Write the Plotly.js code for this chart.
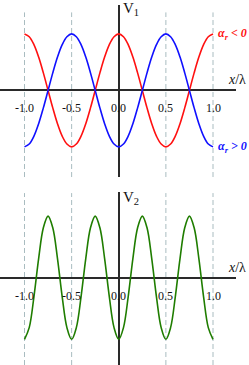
<!DOCTYPE html>
<html><head><meta charset="utf-8">
<script src="https://cdn.plot.ly/plotly-3.0.1.min.js"></script>
<style>html,body{margin:0;padding:0;background:#fff}#c{width:249px;height:365px}</style>
</head><body><div id="c"></div>
<script>
// x positions (x/λ)
var xs = [-1.00,-0.95,-0.90,-0.85,-0.80,-0.75,-0.70,-0.65,-0.60,-0.55,-0.50,-0.45,-0.40,-0.35,-0.30,-0.25,-0.20,-0.15,-0.10,-0.05,
          0.00,0.05,0.10,0.15,0.20,0.25,0.30,0.35,0.40,0.45,0.50,0.55,0.60,0.65,0.70,0.75,0.80,0.85,0.90,0.95,1.00];
// V1, alpha_r < 0 (red)
var v1Neg = [1.00,0.95,0.81,0.59,0.31,0.00,-0.31,-0.59,-0.81,-0.95,-1.00,-0.95,-0.81,-0.59,-0.31,0.00,0.31,0.59,0.81,0.95,
             1.00,0.95,0.81,0.59,0.31,0.00,-0.31,-0.59,-0.81,-0.95,-1.00,-0.95,-0.81,-0.59,-0.31,0.00,0.31,0.59,0.81,0.95,1.00];
// V1, alpha_r > 0 (blue)
var v1Pos = [-1.00,-0.95,-0.81,-0.59,-0.31,0.00,0.31,0.59,0.81,0.95,1.00,0.95,0.81,0.59,0.31,0.00,-0.31,-0.59,-0.81,-0.95,
             -1.00,-0.95,-0.81,-0.59,-0.31,0.00,0.31,0.59,0.81,0.95,1.00,0.95,0.81,0.59,0.31,0.00,-0.31,-0.59,-0.81,-0.95,-1.00];
// V2 (green)
var v2 = [-1.00,-0.81,-0.31,0.31,0.81,1.00,0.81,0.31,-0.31,-0.81,-1.00,-0.81,-0.31,0.31,0.81,1.00,0.81,0.31,-0.31,-0.81,
          -1.00,-0.81,-0.31,0.31,0.81,1.00,0.81,0.31,-0.31,-0.81,-1.00,-0.81,-0.31,0.31,0.81,1.00,0.81,0.31,-0.31,-0.81,-1.00];
var tickVals = [-1.0,-0.5,0.0,0.5,1.0];
var tickLabels = ["-1.0","-0.5","0.0","0.5","1.0"];
var gridVals = [-1.0,-0.5,0.5,1.0];

var SERIF = "Liberation Serif, Times New Roman, serif";
var RED = "#ff1010", BLUE = "#1010ff", GREEN = "#1f7d00", AX = "#2a2a2a";

var traces = [
  {x: xs, y: v1Neg, xaxis:'x', yaxis:'y', mode:'lines', line:{color:RED, width:1.6, shape:'spline'}, hoverinfo:'skip'},
  {x: xs, y: v1Pos, xaxis:'x', yaxis:'y', mode:'lines', line:{color:BLUE, width:1.6, shape:'spline'}, hoverinfo:'skip'},
  {x: xs, y: v2, xaxis:'x2', yaxis:'y2', mode:'lines', line:{color:GREEN, width:1.6, shape:'spline'}, hoverinfo:'skip'}
];

var xr = [-1.26, 1.244];
function xa(anchor){ return {range:xr, domain:[0,1], anchor:anchor, showgrid:false, showticklabels:false, ticks:'',
  zeroline:true, zerolinecolor:AX, zerolinewidth:2, showline:false, fixedrange:true}; }
function ya(range, dom, anchor){ return {range:range, domain:dom, anchor:anchor, showgrid:false, showticklabels:false, ticks:'',
  zeroline:true, zerolinecolor:AX, zerolinewidth:2, showline:false, fixedrange:true}; }

var shapes = [];
gridVals.forEach(function(g){
  shapes.push({type:'line', xref:'x', yref:'paper', x0:g, x1:g, y0:0.515, y1:0.966, line:{color:'#a9bcc0', width:1, dash:'5px,3px'}, layer:'below'});
  shapes.push({type:'line', xref:'x2', yref:'paper', x0:g, x1:g, y0:0, y1:0.471, line:{color:'#a9bcc0', width:1, dash:'5px,3px'}, layer:'below'});
});

var ann = [];
tickVals.forEach(function(v,i){
  ann.push({x:v, y:0, xref:'x', yref:'y', text:tickLabels[i], showarrow:false, yanchor:'top', yshift:-9, font:{family:SERIF, size:12, color:'#111'}});
  ann.push({x:v, y:0, xref:'x2', yref:'y2', text:tickLabels[i], showarrow:false, yanchor:'top', yshift:-9, font:{family:SERIF, size:12, color:'#111'}});
});
ann.push({x:0, y:1, xref:'x', yref:'paper', text:'V<sub>1</sub>', showarrow:false, xanchor:'left', yanchor:'top', xshift:2, yshift:2, font:{family:SERIF, size:15, color:'#111'}});
ann.push({x:0, y:0.474, xref:'x2', yref:'paper', text:'V<sub>2</sub>', showarrow:false, xanchor:'left', yanchor:'top', xshift:2, yshift:5, font:{family:SERIF, size:15, color:'#111'}});
ann.push({x:1, y:0, xref:'paper', yref:'y', text:'<i>x</i>/λ', showarrow:false, xanchor:'right', yanchor:'bottom', xshift:12, yshift:1, font:{family:SERIF, size:14, color:'#111'}});
ann.push({x:1, y:0, xref:'paper', yref:'y2', text:'<i>x</i>/λ', showarrow:false, xanchor:'right', yanchor:'bottom', xshift:12, yshift:1, font:{family:SERIF, size:14, color:'#111'}});
ann.push({x:1, y:1, xref:'paper', yref:'y', text:'<i><b>α<sub>r</sub> &lt; 0</b></i>', showarrow:false, xanchor:'right', yanchor:'middle', xshift:13, font:{family:SERIF, size:12, color:RED}});
ann.push({x:1, y:-1, xref:'paper', yref:'y', text:'<i><b>α<sub>r</sub> &gt; 0</b></i>', showarrow:false, xanchor:'right', yanchor:'middle', xshift:13, font:{family:SERIF, size:12, color:BLUE}});

var layout = {
  width:249, height:365, margin:{l:0, r:13, t:0, b:0},
  paper_bgcolor:'#fff', plot_bgcolor:'rgba(0,0,0,0)', showlegend:false,
  xaxis: xa('y'), yaxis: ya([-1.534, 1.51], [0.515, 0.986], 'x'),
  xaxis2: xa('y2'), yaxis2: ya([-1.417, 1.391], [0, 0.474], 'x2'),
  shapes: shapes, annotations: ann
};
Plotly.newPlot('c', traces, layout, {staticPlot:true, displayModeBar:false});
</script></body></html>
